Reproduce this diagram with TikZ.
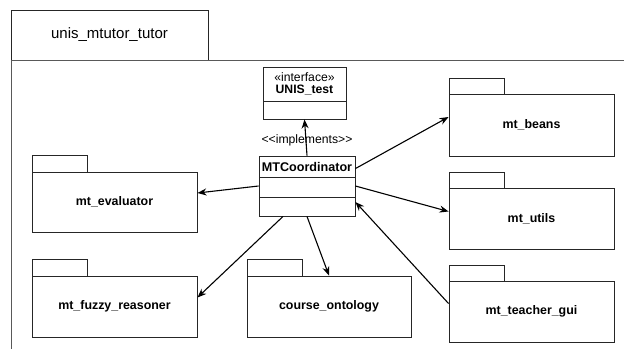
\documentclass[tikz,border=0pt]{standalone}
\usepackage{fontspec}
\setmainfont{Liberation Sans}
\usetikzlibrary{arrows.meta}
\begin{document}
\begin{tikzpicture}[x=1pt,y=-1pt,
  ln/.style={draw=black!85, line width=0.9pt},
  pkg/.style={ln, rectangle, inner sep=0pt, font=\fontsize{12.4}{14}\selectfont\bfseries},
  tabbox/.style={ln},
  arr/.style={draw=black, line width=1.1pt, -{Stealth[length=9pt,width=7pt]}},
  lbl/.style={inner sep=0pt, font=\fontsize{12.2}{14}\selectfont}]
\useasboundingbox (0,0) rectangle (624,349);
% outer package
\draw[ln] (11,10) rectangle (208,60);
\node[inner sep=0pt, font=\fontsize{15}{17}\selectfont] (title) at (109.5,35) {unis\_mtutor\_tutor};
\draw[ln, draw=black!65] (11,60) -- (624,60);
\draw[ln, draw=black!65] (11,60) -- (11,349);
% UNIS_test interface
\node[ln, rectangle, minimum width=83pt, minimum height=52pt, inner sep=0pt] (unis) at (304.5,93) {};
\draw[ln] (263,101) -- (346,101);
\node[lbl] (stereo) at (304.5,77) {«interface»};
\node[lbl, font=\fontsize{12.2}{14}\selectfont\bfseries] (unisname) at (304.5,90) {UNIS\_test};
% MTCoordinator
\node[ln, rectangle, minimum width=96pt, minimum height=60pt, inner sep=0pt] (mtc) at (307,186) {};
\draw[ln] (259,177) -- (355,177);
\draw[ln] (259,197) -- (355,197);
\node[lbl, font=\fontsize{12.6}{14}\selectfont\bfseries] (mtcname) at (307,167) {MTCoordinator};
% packages
\draw[tabbox] (32,155) rectangle (87,172);
\node[pkg, minimum width=165pt, minimum height=60pt] (eval) at (114.5,202) {mt\_evaluator};
\draw[tabbox] (32,259) rectangle (87,276);
\node[pkg, minimum width=165pt, minimum height=61pt] (fuzzy) at (114.5,306.5) {mt\_fuzzy\_reasoner};
\draw[tabbox] (247,259) rectangle (302,276);
\node[pkg, minimum width=164pt, minimum height=61pt] (course) at (329,306.5) {course\_ontology};
\draw[tabbox] (449,78) rectangle (504,94);
\node[pkg, minimum width=165pt, minimum height=62pt] (beans) at (531.5,125) {mt\_beans};
\draw[tabbox] (449,172) rectangle (504,188);
\node[pkg, minimum width=165pt, minimum height=61pt] (utils) at (531.5,218.5) {mt\_utils};
\draw[tabbox] (449,265) rectangle (504,281);
\node[pkg, minimum width=165pt, minimum height=61pt] (teacher) at (531.5,311.5) {mt\_teacher\_gui};
% connectors
\node[lbl] (impl) at (307,140) {{<}{<}implements{>}{>}};
\draw[arr] (mtc.north) -- (unis.south);
\draw[arr] ([yshift=-13pt]mtc.north east) -- ([yshift=8pt]beans.west);
\draw[arr] (mtc.east) -- ([yshift=7pt]utils.west);
\draw[arr] ([yshift=8pt]teacher.west) -- ([yshift=-16pt]mtc.east);
\draw[arr] (mtc.west) -- ([yshift=9pt]eval.east);
\draw[arr] ([xshift=-24pt]mtc.south) -- ([yshift=9pt]fuzzy.east);
\draw[arr] (mtc.south) -- (course.north);
\end{tikzpicture}
\end{document}
